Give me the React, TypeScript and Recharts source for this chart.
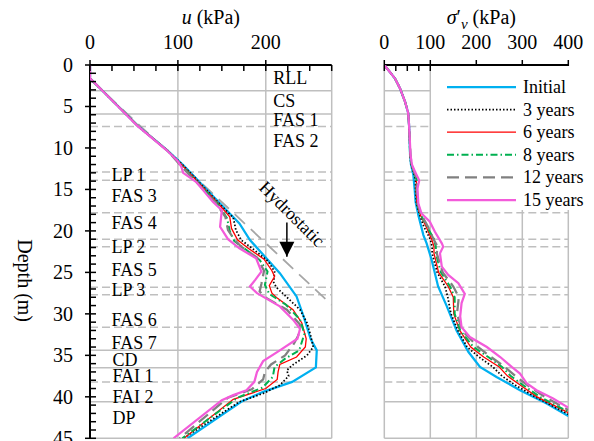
import React from "react";
import { ScatterChart, Scatter, XAxis, YAxis, ReferenceLine, Legend } from "recharts";

type Pt = [number, number]; // [depth (m), value (kPa)]

// pore pressure u (kPa) against depth
const U_INITIAL: Pt[] = [[0, 0], [1.6, 0], [7.4, 55], [10.3, 88], [12.05, 106], [16.7, 148], [19.1, 170], [21.1, 182], [25.1, 216], [27.9, 235], [30.3, 243], [33.0, 251], [34.4, 258], [36.45, 257], [38.2, 230], [39.4, 197], [40.6, 172], [45, 111]];
const U_3Y: Pt[] = [[0, 0], [1.6, 0], [7.4, 55], [10.3, 88], [12.0, 105], [16.7, 147], [18.4, 163], [19.9, 166], [21.1, 172], [22.3, 187], [23.7, 203], [24.9, 210], [26.2, 209], [26.8, 212], [27.9, 223], [29.5, 239], [31.1, 247], [32.6, 251], [34.0, 254], [35.0, 247], [36.2, 230], [36.8, 224], [37.5, 226], [38.6, 216], [39.6, 197], [40.6, 170], [45, 106]];
const U_6Y: Pt[] = [[0, 0], [1.6, 0], [7.4, 55], [10.3, 88], [12.0, 104], [16.7, 146], [18.3, 159], [19.7, 161], [21.1, 168], [22.1, 180], [23.4, 198], [24.8, 207], [25.5, 210], [26.6, 204], [27.5, 207], [28.1, 213], [29.5, 231], [31.1, 241], [33.0, 246], [34.0, 245], [35.2, 235], [36.1, 216], [37.0, 214], [37.9, 213], [39.0, 200], [40.3, 163], [45, 107]];
const U_8Y: Pt[] = [[0, 0], [1.6, 0], [7.4, 55], [10.3, 88], [12.0, 103], [16.7, 145], [18.5, 156], [20.0, 159], [21.2, 164], [22.3, 178], [23.5, 193], [24.9, 202], [26.5, 199], [27.6, 204], [28.9, 223], [30.7, 239], [32.4, 244], [34.4, 238], [35.4, 222], [36.4, 210], [37.6, 208], [38.9, 196], [40.1, 168], [45, 105]];
const U_12Y: Pt[] = [[0, 0], [1.6, 0], [7.4, 55], [10.3, 88], [12.0, 102], [16.6, 143], [18.3, 154], [19.9, 157], [21.0, 164], [21.9, 172], [23.2, 190], [24.8, 198], [26.4, 195], [27.3, 193], [28.1, 201], [29.5, 224], [31.3, 239], [32.6, 237], [33.6, 232], [35.0, 222], [36.1, 206], [37.0, 199], [37.9, 197], [39.1, 184], [40.1, 157], [45, 102]];
const U_15Y: Pt[] = [[0, 0], [1.6, 0], [7.35, 54], [10.25, 87], [11.6, 100], [12.3, 104], [13.0, 106], [14.1, 121], [16.5, 140], [17.5, 150], [19.5, 148], [21.0, 157], [22.1, 170], [23.3, 189], [24.9, 195], [25.9, 188], [26.7, 182], [27.5, 190], [29.1, 216], [30.7, 231], [31.8, 239], [33.0, 236], [34.4, 216], [35.7, 197], [37.0, 190], [38.2, 187], [39.2, 178], [39.8, 163], [40.4, 150], [45, 95]];
const U_HYDRO: Pt[] = [[1.7, 0], [28.9, 275]];

// vertical effective stress (kPa) against depth
const S_INITIAL: Pt[] = [[0, 0], [1.6, 23], [2.8, 34], [4.4, 45], [5.8, 52], [7.4, 54], [10.8, 56], [12.0, 58], [13.2, 63], [15.0, 66], [16.5, 68], [18.1, 74], [20.5, 85], [21.5, 92], [23.5, 103], [26.7, 117], [29.1, 136], [32.0, 157], [34.6, 183], [36.4, 208], [37.6, 244], [39.2, 295], [40.8, 353], [42.3, 400]];
const S_3Y: Pt[] = [[0, 0], [1.6, 23], [2.8, 34], [4.4, 45], [5.8, 52], [7.4, 54], [10.8, 56], [12.0, 58], [13.0, 64], [13.9, 68], [15.0, 68], [16.7, 70], [17.9, 76], [19.5, 86], [21.0, 100], [21.9, 104], [22.7, 104], [25.0, 115], [26.7, 132], [28.0, 138], [30.0, 145], [32.0, 160], [34.0, 180], [35.2, 206], [36.4, 236], [37.5, 256], [38.6, 285], [40.0, 328], [42.1, 400]];
const S_6Y: Pt[] = [[0, 0], [1.6, 23], [2.8, 34], [4.4, 45], [5.8, 52], [7.4, 54], [10.8, 56], [12.0, 59], [13.0, 65], [13.9, 70], [15.0, 69], [16.7, 71], [17.9, 77], [19.5, 91], [21.0, 103], [21.9, 108], [22.7, 108], [25.0, 118], [26.7, 139], [28.0, 150], [30.0, 151], [32.0, 164], [34.0, 188], [35.2, 216], [36.4, 250], [37.5, 268], [38.6, 296], [40.0, 332], [41.9, 400]];
const S_8Y: Pt[] = [[0, 0], [1.6, 23], [2.8, 34], [4.4, 45], [5.8, 52], [7.4, 54], [10.8, 56], [12.0, 59], [13.0, 65], [13.9, 71], [15.0, 70], [16.7, 72], [17.9, 78], [19.5, 93], [21.0, 108], [21.9, 112], [22.7, 112], [25.0, 123], [26.7, 143], [28.0, 153], [30.0, 153], [32.0, 165], [34.0, 194], [35.2, 226], [36.4, 256], [37.5, 275], [38.6, 302], [40.0, 338], [41.8, 400]];
const S_12Y: Pt[] = [[0, 0], [1.6, 23], [2.8, 34], [4.4, 45], [5.8, 52], [7.4, 54], [10.8, 57], [12.0, 59], [13.0, 66], [13.9, 72], [15.0, 71], [16.7, 73], [17.9, 79], [19.5, 95], [21.0, 107], [21.9, 116], [22.7, 114], [25.0, 127], [26.7, 150], [28.0, 162], [30.0, 158], [32.0, 169], [34.0, 204], [35.2, 232], [36.4, 262], [37.5, 285], [38.6, 311], [40.0, 349], [41.6, 400]];
const S_15Y: Pt[] = [[0, 0], [1.6, 23], [2.8, 34], [4.4, 45], [5.8, 52], [7.4, 54], [10.8, 57], [12.0, 60], [12.9, 67], [13.9, 76], [14.9, 72], [16.7, 74], [17.9, 81], [18.9, 99], [20.1, 110], [21.5, 125], [21.9, 128], [22.7, 121], [24.3, 125], [25.3, 139], [26.3, 161], [27.6, 175], [28.7, 168], [30.3, 165], [31.6, 168], [32.8, 186], [34.0, 223], [35.2, 252], [36.4, 277], [37.2, 295], [38.4, 310], [39.2, 331], [40.2, 367], [41.3, 400]];

// layer boundaries (m)
const SOLID_BOUNDS = [3.1, 5.9, 34.4, 36.5, 40.6, 45];
const DASHED_BOUNDS = [7.4, 12.9, 13.9, 17.8, 21.0, 21.9, 26.8, 27.7, 31.6, 38.2];

const LAYER_NAMES = ["RLL", "CS", "FAS 1", "FAS 2", "LP 1", "FAS 3", "FAS 4", "LP 2", "FAS 5", "LP 3", "FAS 6", "FAS 7", "CD", "FAI 1", "FAI 2", "DP"];
const LAYER_DEPTHS = [1.57, 4.34, 6.63, 9.16, 13.26, 15.85, 19.1, 21.88, 24.7, 27.1, 30.7, 33.5, 35.57, 37.5, 40.0, 42.6];
const LAYER_U = [208.5, 208.5, 208.5, 208.5, 24.5, 24.5, 24.5, 24.5, 24.5, 24.5, 24.5, 24.5, 25.5, 25.5, 25.5, 25.5];

const U_TICKS = [0, 25, 50, 75, 100, 125, 150, 175, 200, 225, 250, 275];
const S_TICKS = [0, 25, 50, 75, 100, 125, 150, 175, 200, 225, 250, 275, 300, 325, 350, 375, 400];
const DEPTH_TICKS = Array.from({ length: 46 }, (_, i) => i);

const FONT = "Liberation Serif";
const GRID = "#BFBFBF";
const TXT = { fontFamily: FONT };

const SERIES = [
  { name: "Initial", color: "#00B0F0", width: 2.25, dash: undefined as string | undefined, u: U_INITIAL, s: S_INITIAL },
  { name: "3 years", color: "#000000", width: 1.75, dash: "1.5 2", u: U_3Y, s: S_3Y },
  { name: "6 years", color: "#FF0000", width: 1.3, dash: undefined, u: U_6Y, s: S_6Y },
  { name: "8 years", color: "#00B050", width: 2, dash: "7 3 1.5 3", u: U_8Y, s: S_8Y },
  { name: "12 years", color: "#808080", width: 2.25, dash: "12 6", u: U_12Y, s: S_12Y },
  { name: "15 years", color: "#F35BDA", width: 2.25, dash: undefined, u: U_15Y, s: S_15Y },
];

const rows = (pts: Pt[]) => pts.map(([d, v]) => ({ d, v }));
const noDot = () => <g />;

function XTick(props: any) {
  const { x, y, payload } = props;
  const major = payload.value % 100 === 0;
  return (
    <g>
      <line x1={x} x2={x} y1={major ? y - 5 : y} y2={y + 6} stroke="#000" strokeWidth={1.5} />
      {major && (
        <text x={x} y={y - 16.5} textAnchor="middle" fontSize={20} style={TXT} fill="#000">
          {payload.value}
        </text>
      )}
    </g>
  );
}

function YTick(props: any) {
  const { x, y, payload } = props;
  const major = payload.value % 5 === 0;
  return (
    <g>
      <line x1={major ? x - 5 : x} x2={x + 6} y1={y} y2={y} stroke="#000" strokeWidth={1.5} />
      {major && (
        <text x={x - 17} y={y + 7} textAnchor="end" fontSize={20} style={TXT} fill="#000">
          {payload.value}
        </text>
      )}
    </g>
  );
}

function LegendBox() {
  return (
    <svg width={163} height={144} style={{ background: "#fff", display: "block" }}>
      {SERIES.map((s, i) => {
        const cy = 21 + i * 22.6;
        return (
          <g key={s.name}>
            <line x1={16} x2={85} y1={cy} y2={cy} stroke={s.color} strokeWidth={s.width} strokeDasharray={s.dash} />
            <text x={92} y={cy + 6} fontSize={18} style={TXT} fill="#000">
              {s.name}
            </text>
          </g>
        );
      })}
    </svg>
  );
}

const boundaryLines = () => [
  ...SOLID_BOUNDS.map((d) => <ReferenceLine key={"s" + d} y={d} stroke={GRID} strokeWidth={1.5} />),
  ...DASHED_BOUNDS.map((d) => (
    <ReferenceLine key={"d" + d} y={d} stroke={GRID} strokeWidth={1.5} strokeDasharray="8 4" />
  )),
];

export default function App() {
  const labelRows = LAYER_NAMES.map((name, i) => ({ name, v: LAYER_U[i], d: LAYER_DEPTHS[i] }));
  return (
    <div style={{ position: "absolute", left: 0, top: 0, width: 594, height: 441, background: "#fff", fontFamily: FONT }}>
      <div style={{ position: "absolute", left: 0, top: 0 }}>
        <ScatterChart width={340} height={441} margin={{ top: 35, right: 8.3, bottom: 2.7, left: 0 }}>
          <XAxis
            type="number"
            dataKey="v"
            orientation="top"
            domain={[0, 275]}
            ticks={U_TICKS}
            interval={0}
            allowDataOverflow
            height={30}
            tickSize={0}
            tickMargin={0}
            tickLine={false}
            axisLine={{ stroke: "#000", strokeWidth: 2 }}
            tick={(p: any) => <XTick {...p} />}
            label={{
              content: ({ viewBox }: any) => (
                <text x={viewBox.x + viewBox.width / 2} y={24} textAnchor="middle" fontSize={20} style={TXT} fill="#000">
                  <tspan fontStyle="italic">u</tspan>
                  <tspan> (kPa)</tspan>
                </text>
              ),
            }}
          />
          <YAxis
            type="number"
            dataKey="d"
            reversed
            domain={[0, 45]}
            ticks={DEPTH_TICKS}
            interval={0}
            allowDataOverflow
            width={90}
            tickSize={0}
            tickMargin={0}
            tickLine={false}
            axisLine={{ stroke: "#000", strokeWidth: 2 }}
            tick={(p: any) => <YTick {...p} />}
            label={{
              content: ({ viewBox }: any) => {
                const cy = viewBox.y + viewBox.height / 2 + 29;
                return (
                  <text
                    x={25}
                    y={cy}
                    textAnchor="middle"
                    dominantBaseline="central"
                    fontSize={20}
                    style={TXT}
                    fill="#000"
                    transform={`rotate(90, 25, ${cy})`}
                  >
                    Depth (m)
                  </text>
                );
              },
            }}
          />
          <ReferenceLine x={100} stroke={GRID} strokeWidth={1.5} />
          <ReferenceLine x={200} stroke={GRID} strokeWidth={1.5} />
          <ReferenceLine x={275} stroke={GRID} strokeWidth={1.5} />
          {boundaryLines()}
          <Scatter
            data={rows(U_HYDRO)}
            line={{ stroke: "#A6A6A6", strokeWidth: 1.75, strokeDasharray: "14 8" }}
            shape={noDot}
            fill="none"
            isAnimationActive={false}
          />
          {SERIES.map((s) => (
            <Scatter
              key={s.name}
              name={s.name}
              data={rows(s.u)}
              line={{ stroke: s.color, strokeWidth: s.width, strokeDasharray: s.dash }}
              shape={noDot}
              fill="none"
              isAnimationActive={false}
            />
          ))}
          <Scatter
            data={labelRows}
            isAnimationActive={false}
            shape={(p: any) => (
              <text x={p.cx} y={p.cy + 6} fontSize={18} style={TXT} fill="#000">
                {p.payload.name}
              </text>
            )}
          />
          <Scatter
            data={[{ v: 229.8, d: 17.96 }]}
            isAnimationActive={false}
            shape={(p: any) => (
              <text
                x={p.cx}
                y={p.cy}
                textAnchor="middle"
                dominantBaseline="central"
                fontSize={18}
                style={TXT}
                fill="#000"
                transform={`rotate(45, ${p.cx}, ${p.cy})`}
              >
                Hydrostatic
              </text>
            )}
          />
          <Scatter
            data={[{ v: 224, d: 19.0, tip: false }, { v: 224, d: 23.1, tip: true }]}
            line={{ stroke: "#000", strokeWidth: 1.5 }}
            fill="#000"
            isAnimationActive={false}
            shape={(p: any) =>
              p.payload.tip ? (
                <polygon points={`${p.cx - 7.5},${p.cy - 15} ${p.cx + 7.5},${p.cy - 15} ${p.cx},${p.cy}`} fill="#000" />
              ) : (
                <g />
              )
            }
          />
        </ScatterChart>
      </div>
      <div style={{ position: "absolute", left: 340, top: 0 }}>
        <ScatterChart width={254} height={441} margin={{ top: 35, right: 25.7, bottom: 2.7, left: 44.3 }}>
          <XAxis
            type="number"
            dataKey="v"
            orientation="top"
            domain={[0, 400]}
            ticks={S_TICKS}
            interval={0}
            allowDataOverflow
            height={30}
            tickSize={0}
            tickMargin={0}
            tickLine={false}
            axisLine={{ stroke: "#000", strokeWidth: 2 }}
            tick={(p: any) => <XTick {...p} />}
            label={{
              content: ({ viewBox }: any) => (
                <text x={viewBox.x + viewBox.width / 2 + 5} y={24} textAnchor="middle" fontSize={20} style={TXT} fill="#000">
                  <tspan fontStyle="italic">σ</tspan>
                  <tspan>′</tspan>
                  <tspan fontStyle="italic" fontSize={15} dy={5}>v</tspan>
                  <tspan dy={-5}> (kPa)</tspan>
                </text>
              ),
            }}
          />
          <YAxis type="number" dataKey="d" reversed domain={[0, 45]} allowDataOverflow hide />
          <ReferenceLine x={0} stroke={GRID} strokeWidth={1.5} />
          <ReferenceLine x={100} stroke={GRID} strokeWidth={1.5} />
          <ReferenceLine x={200} stroke={GRID} strokeWidth={1.5} />
          <ReferenceLine x={300} stroke={GRID} strokeWidth={1.5} />
          <ReferenceLine x={400} stroke={GRID} strokeWidth={1.5} />
          {boundaryLines()}
          {SERIES.map((s) => (
            <Scatter
              key={s.name}
              name={s.name}
              data={rows(s.s)}
              line={{ stroke: s.color, strokeWidth: s.width, strokeDasharray: s.dash }}
              shape={noDot}
              fill="none"
              isAnimationActive={false}
            />
          ))}
          <Legend
            layout="vertical"
            align="center"
            verticalAlign="middle"
            content={() => <LegendBox />}
            wrapperStyle={{ left: 91, top: 66, width: 163, height: 144 }}
          />
        </ScatterChart>
      </div>
    </div>
  );
}
